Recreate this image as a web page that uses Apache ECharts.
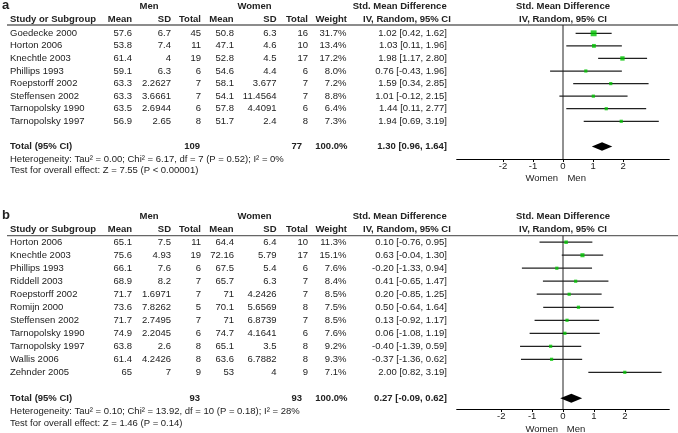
<!DOCTYPE html>
<html><head><meta charset="utf-8">
<script src="https://cdn.jsdelivr.net/npm/echarts@6/dist/echarts.min.js"></script>
<style>html,body{margin:0;padding:0;background:#fff;}#c{width:678px;height:433px;}</style>
</head><body><div id="c"></div>
<script>
// ---------- Panel a data ----------
const studiesA = ['Goedecke 2000','Horton 2006','Knechtle 2003','Phillips 1993','Roepstorff 2002','Steffensen 2002','Tarnopolsky 1990','Tarnopolsky 1997'];
const menMeanA = [57.6, 53.8, 61.4, 59.1, 63.3, 63.3, 63.5, 56.9];
const menSdA = [6.7, 7.4, 4, 6.3, 2.2627, 3.6661, 2.6944, 2.65];
const menNA = [45, 11, 19, 6, 7, 7, 6, 8];
const womenMeanA = [50.8, 47.1, 52.8, 54.6, 58.1, 54.1, 57.8, 51.7];
const womenSdA = [6.3, 4.6, 4.5, 4.4, 3.677, 11.4564, 4.4091, 2.4];
const womenNA = [16, 10, 17, 6, 7, 7, 6, 8];
const weightA = [31.7, 13.4, 17.2, 8.0, 7.2, 8.8, 6.4, 7.3];
const smdA = [1.02, 1.03, 1.98, 0.76, 1.59, 1.01, 1.44, 1.94];
const loA = [0.42, 0.11, 1.17, -0.43, 0.34, -0.12, 0.11, 0.69];
const hiA = [1.62, 1.96, 2.80, 1.96, 2.85, 2.15, 2.77, 3.19];
const totalA = {men: 109, women: 77, est: 1.30, lo: 0.96, hi: 1.64};
const hetA = 'Heterogeneity: Tau\u00B2 = 0.00; Chi\u00B2 = 6.17, df = 7 (P = 0.52); I\u00B2 = 0%';
const testA = 'Test for overall effect: Z = 7.55 (P < 0.00001)';

// ---------- Panel b data ----------
const studiesB = ['Horton 2006','Knechtle 2003','Phillips 1993','Riddell 2003','Roepstorff 2002','Romijn 2000','Steffensen 2002','Tarnopolsky 1990','Tarnopolsky 1997','Wallis 2006','Zehnder 2005'];
const menMeanB = [65.1, 75.6, 66.1, 68.9, 71.7, 73.6, 71.7, 74.9, 63.8, 61.4, 65];
const menSdB = [7.5, 4.93, 7.6, 8.2, 1.6971, 7.8262, 2.7495, 2.2045, 2.6, 4.2426, 7];
const menNB = [11, 19, 6, 7, 7, 5, 7, 6, 8, 8, 9];
const womenMeanB = [64.4, 72.16, 67.5, 65.7, 71, 70.1, 71, 74.7, 65.1, 63.6, 53];
const womenSdB = [6.4, 5.79, 5.4, 6.3, 4.2426, 5.6569, 6.8739, 4.1641, 3.5, 6.7882, 4];
const womenNB = [10, 17, 6, 7, 7, 8, 7, 6, 8, 8, 9];
const weightB = [11.3, 15.1, 7.6, 8.4, 8.5, 7.5, 8.5, 7.6, 9.2, 9.3, 7.1];
const smdB = [0.10, 0.63, -0.20, 0.41, 0.20, 0.50, 0.13, 0.06, -0.40, -0.37, 2.00];
const loB = [-0.76, -0.04, -1.33, -0.65, -0.85, -0.64, -0.92, -1.08, -1.39, -1.36, 0.82];
const hiB = [0.95, 1.30, 0.94, 1.47, 1.25, 1.64, 1.17, 1.19, 0.59, 0.62, 3.19];
const totalB = {men: 93, women: 93, est: 0.27, lo: -0.09, hi: 0.62};
const hetB = 'Heterogeneity: Tau\u00B2 = 0.10; Chi\u00B2 = 13.92, df = 10 (P = 0.18); I\u00B2 = 28%';
const testB = 'Test for overall effect: Z = 1.46 (P = 0.14)';

const tickValues = [-2, -1, 0, 1, 2];

// ---------- styling / layout ----------
const FF = '"Liberation Sans", Arial, sans-serif';
const FS = 9.5;
const TXT = '#222';
const GREEN = '#00c400';
const LINEC = '#222';
const COL = {study: 10, mMean: 132, mSd: 171, mN: 201, wMean: 234, wSd: 276.5, wN: 308, weight: 346.5, ci: 447};

function fmtCI(e, l, h) { return e.toFixed(2) + ' [' + l.toFixed(2) + ', ' + h.toFixed(2) + ']'; }

function makePanel(idx, P) {
  const n = P.studies.length;
  const series = [];
  series.push({
    type: 'line', xAxisIndex: idx, yAxisIndex: idx, silent: true, symbol: 'none',
    data: [[0, P.ymin], [0, P.ymax]], lineStyle: {color: '#222', width: 1}, z: 1
  });
  series.push({
    type: 'custom', xAxisIndex: idx, yAxisIndex: idx, z: 2,
    data: P.studies.map((s, i) => [P.lo[i], P.hi[i], i]),
    renderItem: function (params, api) {
      const a = api.coord([api.value(0), api.value(2)]);
      const b = api.coord([api.value(1), api.value(2)]);
      return {type: 'line', shape: {x1: a[0], y1: a[1], x2: b[0], y2: b[1]}, style: {stroke: LINEC, lineWidth: 1.25}};
    }
  });
  series.push({
    type: 'scatter', xAxisIndex: idx, yAxisIndex: idx, z: 3, symbol: 'rect',
    data: P.studies.map((s, i) => ({value: [P.smd[i], i], symbolSize: Math.max(3.2, 1.05 * Math.sqrt(P.weight[i]))})),
    itemStyle: {color: GREEN}
  });
  series.push({
    type: 'custom', xAxisIndex: idx, yAxisIndex: idx, z: 3,
    data: [[P.total.lo, P.total.est, P.total.hi, n + 1]],
    renderItem: function (params, api) {
      const r = api.value(3);
      const l = api.coord([api.value(0), r]);
      const m = api.coord([api.value(1), r]);
      const h = api.coord([api.value(2), r]);
      const d = P.dh;
      return {type: 'polygon', shape: {points: [[l[0], l[1]], [m[0], m[1] - d], [h[0], h[1]], [m[0], m[1] + d]]}, style: {fill: '#000'}};
    }
  });
  series.push({
    type: 'custom', xAxisIndex: idx, yAxisIndex: idx, z: 4, clip: false,
    data: P.studies.map((s, i) => [0, i]),
    renderItem: function (params, api) {
      const i = params.dataIndex;
      const y = api.coord([0, i])[1];
      const t = (text, x, align) => ({type: 'text', style: {text: String(text), x: x, y: y, align: align, verticalAlign: 'middle', fill: TXT, font: FS + 'px ' + FF}});
      return {type: 'group', children: [
        t(P.studies[i], COL.study, 'left'),
        t(P.menMean[i], COL.mMean, 'right'),
        t(P.menSd[i], COL.mSd, 'right'),
        t(P.menN[i], COL.mN, 'right'),
        t(P.womenMean[i], COL.wMean, 'right'),
        t(P.womenSd[i], COL.wSd, 'right'),
        t(P.womenN[i], COL.wN, 'right'),
        t(P.weight[i].toFixed(1) + '%', COL.weight, 'right'),
        t(fmtCI(P.smd[i], P.lo[i], P.hi[i]), COL.ci, 'right')
      ]};
    }
  });
  series.push({
    type: 'custom', xAxisIndex: idx, yAxisIndex: idx, z: 4, clip: false,
    data: [[0, n + 1]],
    renderItem: function (params, api) {
      const y = api.coord([0, n + 1])[1];
      const t = (text, x, align) => ({type: 'text', style: {text: String(text), x: x, y: y, align: align, verticalAlign: 'middle', fill: TXT, font: 'bold ' + FS + 'px ' + FF}});
      return {type: 'group', children: [
        t('Total (95% CI)', COL.study, 'left'),
        t(P.total.men, COL.mN - 1, 'right'),
        t(P.total.women, COL.wN - 6, 'right'),
        t('100.0%', COL.weight + 1, 'right'),
        t(fmtCI(P.total.est, P.total.lo, P.total.hi), COL.ci, 'right')
      ]};
    }
  });
  return series;
}

const panels = [
  {studies: studiesA, menMean: menMeanA, menSd: menSdA, menN: menNA, womenMean: womenMeanA, womenSd: womenSdA, womenN: womenNA,
   weight: weightA, smd: smdA, lo: loA, hi: hiA, total: totalA, ymin: -0.66, ymax: 10, top: 25, height: 134, xr: 3.54, dh: 4.2},
  {studies: studiesB, menMean: menMeanB, menSd: menSdB, menN: menNB, womenMean: womenMeanB, womenSd: womenSdB, womenN: womenNB,
   weight: weightB, smd: smdB, lo: loB, hi: hiB, total: totalB, ymin: -0.5, ymax: 12.82, top: 235.7, height: 173.3, xr: 3.44, dh: 4.5}
];

const grids = panels.map(P => ({left: 456.7, right: 8.7, top: P.top, height: P.height, containLabel: false}));
const xAxes = panels.map((P, k) => ({
  type: 'value', gridIndex: k, min: -P.xr, max: P.xr,
  axisLine: {show: true, onZero: false, lineStyle: {color: '#000', width: 1}},
  axisTick: {show: true, length: 3, customValues: tickValues, lineStyle: {color: '#000'}},
  axisLabel: {show: true, customValues: tickValues, margin: 2, color: TXT, fontSize: FS, fontFamily: FF},
  splitLine: {show: false}
}));
const yAxes = panels.map((P, k) => ({
  type: 'value', gridIndex: k, inverse: true, min: P.ymin, max: P.ymax, show: false,
  axisLine: {onZero: false}, splitLine: {show: false}
}));

let series = [];
panels.forEach((P, k) => { series = series.concat(makePanel(k, P)); });

function txt(text, x, y, align, bold, size) {
  return {type: 'text', x: x, y: y, style: {text: text, align: align || 'left', verticalAlign: 'middle', fill: TXT,
    font: (bold ? 'bold ' : '') + (size || FS) + 'px ' + FF}, silent: true};
}
function headers(y0, label) {
  const y1 = y0, y2 = y0 + 13.7;
  return [
    txt(label, 2, y1 - 0.5, 'left', true, 13),
    txt('Men', 149, y1, 'center', true),
    txt('Women', 254.5, y1, 'center', true),
    txt('Std. Mean Difference', 352.7, y1, 'left', true),
    txt('Std. Mean Difference', 563, y1, 'center', true),
    txt('Study or Subgroup', COL.study, y2, 'left', true),
    txt('Mean', COL.mMean, y2, 'right', true),
    txt('SD', COL.mSd, y2, 'right', true),
    txt('Total', COL.mN, y2, 'right', true),
    txt('Mean', 233.5, y2, 'right', true),
    txt('SD', COL.wSd, y2, 'right', true),
    txt('Total', COL.wN, y2, 'right', true),
    txt('Weight', COL.weight + 0.5, y2, 'right', true),
    txt('IV, Random, 95% CI', 363, y2, 'left', true),
    txt('IV, Random, 95% CI', 563, y2, 'center', true)
  ];
}
const graphic = [].concat(
  headers(6, 'a'),
  [{type: 'line', shape: {x1: 7, y1: 25, x2: 678, y2: 25}, style: {stroke: '#666', lineWidth: 1.3}, silent: true}],
  [txt(hetA, COL.study, 159.3, 'left'), txt(testA, COL.study, 170.7, 'left'),
   txt('Women', 541.7, 178.3, 'center'), txt('Men', 576.7, 178.3, 'center')],
  headers(216, 'b'),
  [{type: 'line', shape: {x1: 7, y1: 235.7, x2: 678, y2: 235.7}, style: {stroke: '#666', lineWidth: 1.3}, silent: true}],
  [txt(hetB, COL.study, 411, 'left'), txt(testB, COL.study, 423.3, 'left'),
   txt('Women', 541.7, 429.3, 'center'), txt('Men', 576, 429.3, 'center')]
);

const chart = echarts.init(document.getElementById('c'), null, {renderer: 'canvas'});
chart.setOption({
  animation: false,
  backgroundColor: '#fff',
  grid: grids, xAxis: xAxes, yAxis: yAxes, series: series, graphic: graphic
});
</script></body></html>
